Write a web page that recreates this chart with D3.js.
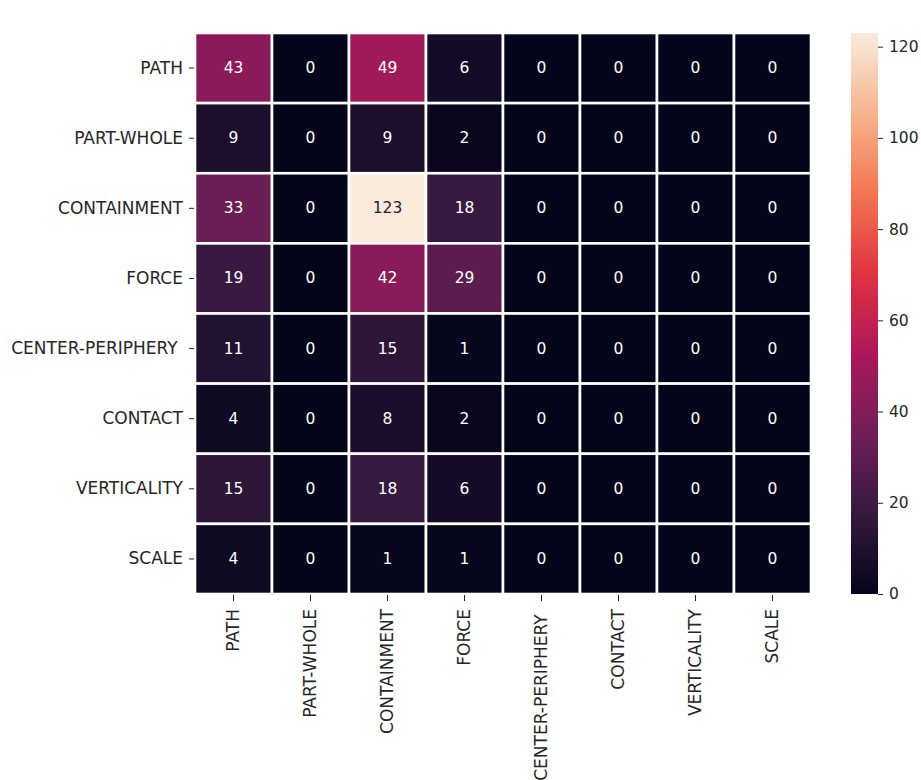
<!DOCTYPE html>
<html>
<head>
<meta charset="utf-8">
<script src="https://cdn.jsdelivr.net/npm/d3@7"></script>
<style>
  html, body { margin: 0; padding: 0; background: #ffffff; }
  svg { display: block; }
  text { font-family: "DejaVu Sans", sans-serif; }
</style>
</head>
<body>
<script>
// Image-schema co-occurrence counts (rows vs columns)
const rowLabels = ["PATH", "PART-WHOLE", "CONTAINMENT", "FORCE", "CENTER-PERIPHERY ", "CONTACT", "VERTICALITY", "SCALE"];
const colLabels = ["PATH", "PART-WHOLE", "CONTAINMENT", "FORCE", "CENTER-PERIPHERY ", "CONTACT", "VERTICALITY", "SCALE"];

const rowPath            = [43, 0, 49, 6, 0, 0, 0, 0];
const rowPartWhole       = [9, 0, 9, 2, 0, 0, 0, 0];
const rowContainment     = [33, 0, 123, 18, 0, 0, 0, 0];
const rowForce           = [19, 0, 42, 29, 0, 0, 0, 0];
const rowCenterPeriphery = [11, 0, 15, 1, 0, 0, 0, 0];
const rowContact         = [4, 0, 8, 2, 0, 0, 0, 0];
const rowVerticality     = [15, 0, 18, 6, 0, 0, 0, 0];
const rowScale           = [4, 0, 1, 1, 0, 0, 0, 0];

const colorbarTicks = [0, 20, 40, 60, 80, 100, 120];

// "rocket" colour ramp stops
const rampPositions = [0, 1/7, 2/7, 3/7, 4/7, 5/7, 6/7, 1];
const rampColors = ["#03051a", "#35193e", "#701f57", "#ad1759", "#e13342", "#f37651", "#f6b48f", "#faebdd"];

const matrix = [rowPath, rowPartWhole, rowContainment, rowForce,
                rowCenterPeriphery, rowContact, rowVerticality, rowScale];

const cells = [];
matrix.forEach((vals, i) => vals.forEach((v, j) => cells.push({ row: rowLabels[i], col: colLabels[j], value: v })));

const vmin = 0;
const vmax = d3.max(cells, d => d.value);

const W = 921, H = 780;
const plot = { left: 195, top: 33, right: 811, bottom: 594 };
const cbar = { left: 851, right: 878, top: 33, bottom: 594 };
const labelSize = 17;

const svg = d3.select("body").append("svg").attr("width", W).attr("height", H);

const x = d3.scaleBand().domain(colLabels).range([plot.left, plot.right]).padding(0);
const y = d3.scaleBand().domain(rowLabels).range([plot.top, plot.bottom]).padding(0);

const color = d3.scaleLinear()
  .domain(rampPositions.map(p => vmin + p * (vmax - vmin)))
  .range(rampColors)
  .interpolate(d3.interpolateRgb)
  .clamp(true);

function textColorFor(c) {
  const rgb = d3.rgb(c);
  const lin = v => { v /= 255; return v <= 0.03928 ? v / 12.92 : Math.pow((v + 0.055) / 1.055, 2.4); };
  const lum = 0.2126 * lin(rgb.r) + 0.7152 * lin(rgb.g) + 0.0722 * lin(rgb.b);
  return lum > 0.408 ? "#262626" : "#ffffff";
}

// Heatmap cells
svg.append("g").selectAll("rect")
  .data(cells)
  .join("rect")
  .attr("x", d => x(d.col))
  .attr("y", d => y(d.row))
  .attr("width", x.bandwidth())
  .attr("height", y.bandwidth())
  .attr("fill", d => color(d.value))
  .attr("stroke", "#ffffff")
  .attr("stroke-width", 2.6);

// Annotations
svg.append("g").selectAll("text")
  .data(cells)
  .join("text")
  .attr("x", d => x(d.col) + x.bandwidth() / 2)
  .attr("y", d => y(d.row) + y.bandwidth() / 2)
  .attr("text-anchor", "middle")
  .attr("dominant-baseline", "central")
  .attr("font-size", 15.5)
  .attr("fill", d => textColorFor(color(d.value)))
  .text(d => d.value);

// Axes
const yAxis = svg.append("g")
  .attr("transform", `translate(${plot.left - 1},0)`)
  .call(d3.axisLeft(y).tickSize(5).tickPadding(6).tickSizeOuter(0));
yAxis.select(".domain").remove();
yAxis.selectAll("line").attr("stroke", "#262626");
yAxis.selectAll("text")
  .attr("font-size", labelSize).attr("fill", "#262626")
  .style("font-family", "'DejaVu Sans', sans-serif")
  .style("white-space", "pre");

const xAxis = svg.append("g")
  .attr("transform", `translate(0,${plot.bottom + 1})`)
  .call(d3.axisBottom(x).tickSize(6).tickPadding(8).tickSizeOuter(0));
xAxis.select(".domain").remove();
xAxis.selectAll("line").attr("stroke", "#262626");
xAxis.selectAll("text")
  .attr("font-size", labelSize).attr("fill", "#262626")
  .style("font-family", "'DejaVu Sans', sans-serif")
  .style("white-space", "pre")
  .attr("text-anchor", "end")
  .attr("transform", "rotate(-90)")
  .attr("x", -14)
  .attr("y", 0)
  .attr("dy", "0.35em");

// Colour bar
const defs = svg.append("defs");
const grad = defs.append("linearGradient")
  .attr("id", "cbar-grad")
  .attr("x1", 0).attr("y1", 1).attr("x2", 0).attr("y2", 0);
d3.range(0, 1.0001, 0.02).forEach(t => {
  grad.append("stop")
    .attr("offset", t)
    .attr("stop-color", color(vmin + t * (vmax - vmin)));
});

const cScale = d3.scaleLinear().domain([vmin, vmax]).range([cbar.bottom, cbar.top]);

svg.append("rect")
  .attr("x", cbar.left)
  .attr("y", cbar.top)
  .attr("width", cbar.right - cbar.left)
  .attr("height", cbar.bottom - cbar.top)
  .attr("fill", "url(#cbar-grad)");

const cAxis = svg.append("g")
  .attr("transform", `translate(${cbar.right},0)`)
  .call(d3.axisRight(cScale).tickValues(colorbarTicks).tickSize(5).tickPadding(6).tickSizeOuter(0));
cAxis.select(".domain").remove();
cAxis.selectAll("line").attr("stroke", "#262626");
cAxis.selectAll("text")
  .attr("font-size", 15.5).attr("fill", "#262626")
  .style("font-family", "'DejaVu Sans', sans-serif");
</script>
</body>
</html>
